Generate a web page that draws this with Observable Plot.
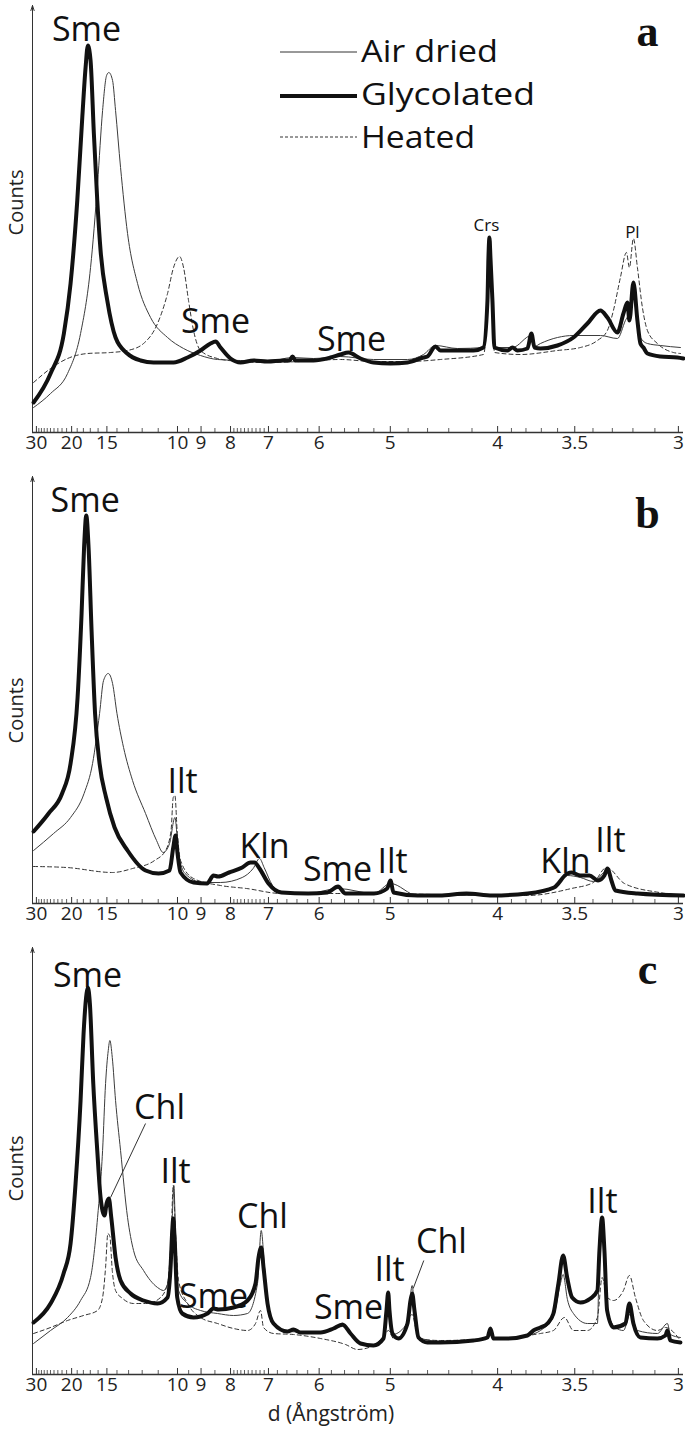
<!DOCTYPE html>
<html>
<head>
<meta charset="utf-8">
<script src="https://cdn.jsdelivr.net/npm/d3@7"></script>
<script src="https://cdn.jsdelivr.net/npm/@observablehq/plot@0.6"></script>
<style>
  body { margin: 0; background: #fff; }
  #wrap { position: relative; width: 685px; }
  #wrap svg { display: block; }
  #legend { position: absolute; left: 0; top: 0; pointer-events: none; }
</style>
</head>
<body>
<div id="wrap"></div>
<script>
// ---------- axis: d-spacing (Å) on a 2θ (Cu Kα) linear scale ----------
const LAMBDA = 1.5406;
const twoTheta = d => 2 * Math.asin(LAMBDA / (2 * d)) * 180 / Math.PI;
const majorD = [30, 20, 15, 10, 9, 8, 7, 6, 5, 4, 3.5, 3];
const majorLabels = ["30", "20", "15", "10", "9", "8", "7", "6", "5", "4", "3.5", "3"];
const minorD = [29, 28, 27, 26, 25, 24, 23, 22, 21, 19, 18, 17, 16, 14, 13, 12, 11, 9.5, 8.5,
  7.9, 7.8, 7.7, 7.6, 7.5, 7.4, 7.3, 7.2, 7.1, 6.8, 6.6, 6.4, 6.2, 5.8, 5.6, 5.4, 5.2,
  4.8, 4.6, 4.4, 4.2, 3.9, 3.8, 3.7, 3.6, 3.4, 3.3, 3.2, 3.1];
const xDomain = [2.78, 29.97];
const yMax = 427;

// ---------- panel a : [2θ (deg), counts] ----------
const aGly = [[2.825,30],[3.535,59],[4.091,99],[4.370,149],[4.650,232],[4.859,315],[4.997,365],[5.093,387],[5.205,372],[5.343,299],[5.485,232],[5.623,182],[5.903,132],[6.249,95],[6.738,79],[7.293,72],[7.836,70],[8.671,70],[9.256,75],[9.798,82],[10.216,89],[10.425,91],[10.633,85],[11.051,74],[11.468,70],[12.011,72],[12.596,71],[13.264,72],[13.515,72],[13.640,76],[13.765,72],[14.517,72],[15.226,75],[15.644,78],[15.978,80],[16.479,74],[17.022,70],[17.732,69],[18.442,70],[19.109,75],[19.276,76],[19.610,86],[19.819,82],[20.529,82],[21.197,82],[21.614,85],[21.782,132],[21.823,175],[21.865,195],[21.907,175],[21.990,132],[22.074,85],[22.617,82],[22.826,85],[23.034,82],[23.452,84],[23.619,99],[23.745,85],[23.995,84],[24.705,87],[25.373,95],[25.957,109],[26.500,122],[26.792,115],[27.210,100],[27.461,119],[27.628,130],[27.711,112],[27.878,150],[28.045,112],[28.171,89],[28.296,85],[28.463,79],[29.006,76],[29.715,75],[29.966,74]];
const aAir = [[2.825,25],[3.535,39],[4.245,59],[4.788,99],[5.205,165],[5.498,249],[5.707,322],[5.874,357],[5.969,360],[6.124,352],[6.249,322],[6.458,265],[6.750,199],[7.168,149],[7.711,115],[8.420,95],[9.089,84],[9.798,77],[10.508,73],[11.468,72],[12.596,71],[13.640,75],[14.517,74],[15.644,76],[17.022,73],[18.442,73],[19.109,78],[19.610,87],[20.529,84],[21.614,85],[21.782,130],[21.865,190],[21.990,130],[22.074,85],[22.826,85],[23.619,97],[23.745,86],[23.995,89],[24.705,95],[25.373,97],[26.500,97],[27.210,94],[27.544,112],[27.753,122],[27.878,135],[28.045,110],[28.171,95],[28.463,89],[29.006,87],[29.841,85]];
const aHeat = [[2.825,50],[3.535,64],[4.245,74],[5.080,79],[6.041,80],[6.750,82],[7.418,89],[8.003,109],[8.420,139],[8.671,165],[8.922,176],[9.089,165],[9.297,132],[9.506,102],[9.798,82],[10.508,74],[11.468,71],[12.596,70],[13.974,71],[15.644,73],[17.022,71],[18.442,71],[19.819,73],[21.614,78],[21.782,125],[21.865,185],[21.990,125],[22.074,80],[23.160,78],[24.705,82],[25.665,85],[26.375,92],[26.792,102],[27.043,122],[27.335,155],[27.586,180],[27.711,165],[27.878,194],[28.045,165],[28.254,125],[28.463,102],[28.880,89],[29.548,80],[29.841,79]];
const aLabels = [["Sme", 5.038, 402], ["Sme", 10.425, 110], ["Sme", 16.103, 92]];
const aSmall = [["Crs", 21.740, 207], ["Pl", 27.836, 200]];

// ---------- panel b ----------
const bGly = [[2.825,72],[3.452,90],[4.016,110],[4.370,140],[4.663,206],[4.830,290],[4.934,356],[5.026,388],[5.122,356],[5.247,273],[5.393,190],[5.581,140],[5.853,106],[6.208,76],[6.750,53],[7.502,33],[8.045,30],[8.504,33],[8.658,56],[8.754,68],[8.838,50],[8.963,31],[9.506,21],[10.070,20],[10.341,28],[10.529,27],[10.988,31],[11.539,36],[11.886,41],[12.053,41],[12.262,35],[12.638,20],[13.180,11],[14.291,10],[15.101,11],[15.540,17],[15.853,10],[17.043,10],[17.594,15],[17.732,23],[17.857,11],[18.859,8],[19.777,8],[20.905,10],[21.990,8],[23.452,10],[24.563,16],[25.122,30],[25.289,31],[25.665,28],[26.041,28],[26.400,23],[26.667,28],[26.792,35],[26.959,23],[27.127,13],[28.045,10],[29.966,8]];
const bAir = [[2.825,53],[3.660,70],[4.370,86],[4.934,110],[5.289,140],[5.581,190],[5.748,223],[5.944,230],[6.124,220],[6.308,190],[6.583,156],[6.959,123],[7.502,90],[7.961,63],[8.237,51],[8.504,60],[8.729,86],[8.880,50],[9.151,30],[9.882,21],[10.633,21],[11.539,26],[11.995,35],[12.262,45],[12.454,36],[12.805,18],[13.180,11],[14.291,10],[15.540,15],[17.043,10],[17.732,20],[18.859,8],[23.452,9],[24.563,15],[25.122,28],[25.665,26],[26.208,22],[26.792,33],[27.127,14],[28.045,10],[29.966,8]];
const bHeat = [[2.825,37],[4.203,36],[6.124,31],[6.959,35],[7.878,43],[8.337,53],[8.567,73],[8.658,106],[8.729,108],[8.821,73],[8.963,43],[9.506,25],[10.633,18],[11.719,15],[13.180,10],[17.043,10],[17.594,16],[17.732,18],[17.857,10],[23.452,8],[25.289,15],[26.208,21],[26.751,36],[27.503,20],[28.964,11],[29.966,8]];
const bLabels = [["Sme", 4.980, 402], ["Ilt", 9.047, 121], ["Kln", 12.471, 56], ["Sme", 15.519, 33], ["Ilt", 17.815, 41], ["Kln", 25.039, 41], ["Ilt", 26.918, 62]];

// ---------- panel c ----------
const cGly = [[2.825,52],[3.535,71],[4.078,101],[4.370,131],[4.579,191],[4.788,274],[4.913,341],[5.038,381],[5.093,387],[5.176,371],[5.318,291],[5.485,224],[5.623,177],[5.790,159],[5.874,171],[5.969,176],[6.070,157],[6.249,117],[6.458,94],[6.876,81],[7.418,74],[8.003,71],[8.420,77],[8.546,107],[8.617,144],[8.658,156],[8.725,131],[8.825,77],[9.034,61],[9.506,57],[10.091,61],[10.341,66],[10.550,65],[11.176,67],[11.761,74],[12.095,91],[12.220,117],[12.333,127],[12.429,107],[12.596,71],[12.846,51],[13.431,43],[13.681,45],[13.974,42],[14.809,42],[15.352,46],[15.727,50],[16.062,41],[16.479,31],[17.022,29],[17.439,36],[17.565,64],[17.636,82],[17.690,64],[17.815,41],[18.066,36],[18.442,51],[18.567,74],[18.638,81],[18.734,64],[18.901,37],[19.276,32],[19.819,32],[21.197,34],[21.782,37],[21.907,46],[22.032,36],[22.617,36],[23.452,39],[23.703,44],[23.995,47],[24.287,51],[24.538,61],[24.746,91],[24.943,119],[25.110,97],[25.318,77],[25.665,72],[26.083,76],[26.375,84],[26.459,124],[26.571,157],[26.667,124],[26.780,64],[27.043,47],[27.544,51],[27.711,71],[27.878,51],[28.171,37],[28.880,36],[29.215,39],[29.298,44],[29.423,34],[29.841,32]];
const cAir = [[2.825,31],[3.535,44],[4.245,57],[4.788,74],[5.205,97],[5.498,157],[5.707,224],[5.832,291],[5.944,324],[6.011,334],[6.112,317],[6.249,274],[6.458,224],[6.750,157],[7.001,124],[7.418,104],[8.003,87],[8.253,84],[8.462,94],[8.617,157],[8.684,189],[8.754,141],[8.880,84],[9.256,71],[9.798,64],[10.508,61],[11.176,59],[11.761,61],[12.178,91],[12.333,144],[12.471,107],[12.638,67],[12.846,50],[13.431,43],[14.809,42],[15.727,48],[16.479,31],[17.022,29],[17.439,35],[17.636,75],[17.815,40],[18.442,52],[18.638,89],[18.734,64],[18.901,37],[19.819,33],[21.782,36],[21.907,45],[22.032,35],[23.452,39],[23.995,44],[24.538,58],[24.830,91],[24.943,100],[25.122,75],[25.373,61],[25.957,51],[26.375,51],[26.459,124],[26.571,154],[26.667,110],[26.792,64],[27.127,47],[27.461,44],[27.753,61],[28.045,44],[28.880,41],[29.298,51],[29.423,40],[29.841,37]];
const cHeat = [[2.825,41],[3.535,47],[4.245,54],[4.913,59],[5.498,64],[5.707,77],[5.832,107],[5.928,141],[6.011,138],[6.112,104],[6.249,84],[6.542,76],[7.001,71],[7.585,71],[8.128,77],[8.420,91],[8.575,141],[8.658,189],[8.754,141],[8.880,94],[9.256,71],[9.798,57],[10.508,51],[11.176,46],[11.761,44],[12.095,51],[12.304,64],[12.429,47],[12.846,41],[13.681,40],[14.809,36],[15.853,30],[16.354,25],[17.022,29],[17.439,38],[17.648,44],[17.857,36],[18.149,38],[18.638,60],[18.901,36],[19.819,34],[21.782,36],[21.907,44],[22.032,35],[23.452,39],[23.995,41],[24.538,44],[24.997,57],[25.373,44],[25.957,44],[26.375,57],[26.571,97],[26.792,77],[27.043,74],[27.461,84],[27.711,99],[27.962,77],[28.296,54],[28.880,44],[29.215,47],[29.841,34]];
const cLabels = [["Sme", 5.080, 398], ["Chl", 8.086, 266], ["Ilt", 8.754, 202], ["Sme", 10.341, 77], ["Chl", 12.387, 157], ["Sme", 15.978, 66], ["Ilt", 17.690, 104], ["Chl", 19.861, 132], ["Ilt", 26.584, 172]];
const cLeaders = [[7.502, 251, 6.041, 177], [19.123, 114, 18.680, 86]];

const legendItems = ["Air dried", "Glycolated", "Heated"];

// ---------- drawing ----------
const FONT = "'Open Sans', 'Noto Sans', sans-serif";
const rows = arr => arr.map(([t, c]) => ({t, c}));
const tickLabel = new Map(majorD.map((d, i) => [twoTheta(d).toFixed(4), majorLabels[i]]));

function panel({gly, air, heat, labels, small = [], leaders = [], letter, letterDy, countsY, last}) {
  const H = last ? 487 : 471;
  const mb = last ? 55 : 39;
  const frameH = H - 5 - mb;
  const marks = [
    Plot.ruleY([0], {stroke: "#333", strokeWidth: 1.5}),
    Plot.ruleX(majorD.map(twoTheta), {stroke: "#333", strokeWidth: 1, insetTop: frameH - 6}),
    Plot.ruleX(minorD.map(twoTheta), {stroke: "#333", strokeWidth: 0.8, insetTop: frameH - 4}),
    Plot.arrow([0], {x1: () => xDomain[0], y1: () => 0, x2: () => xDomain[0], y2: () => yMax,
      stroke: "#333", strokeWidth: 1, headLength: 8, headAngle: 36}),
    Plot.line(rows(heat), {x: "t", y: "c", stroke: "#333", strokeWidth: 1, strokeDasharray: "4,3", curve: "monotone-x"}),
    Plot.line(rows(air), {x: "t", y: "c", stroke: "#3c3c3c", strokeWidth: 1, curve: "monotone-x"}),
    Plot.line(rows(gly), {x: "t", y: "c", stroke: "#111", strokeWidth: 4, curve: "monotone-x", strokeLinejoin: "round"}),
    Plot.link(leaders, {x1: d => d[0], y1: d => d[1], x2: d => d[2], y2: d => d[3], stroke: "#333", strokeWidth: 1}),
    Plot.text(labels, {x: d => d[1], y: d => d[2], text: d => d[0], fontSize: 34, fill: "#111", fontFamily: FONT}),
    Plot.text(small, {x: d => d[1], y: d => d[2], text: d => d[0], fontSize: 17, fill: "#111", fontFamily: FONT}),
    Plot.text([letter], {frameAnchor: "top-right", dx: -36, dy: letterDy, lineAnchor: "bottom", textAnchor: "middle",
      fontSize: 44, fontWeight: "bold", fontFamily: "'Liberation Serif', 'DejaVu Serif', serif", fill: "#111"}),
    Plot.text(["Counts"], {x: () => xDomain[0], y: () => countsY, dx: -16, rotate: -90, fontSize: 20, fill: "#222", fontFamily: FONT})
  ];
  if (last) {
    marks.push(Plot.text(["d (Ångström)"], {frameAnchor: "bottom", dx: -27, dy: 46, lineAnchor: "bottom",
      fontSize: 21, fill: "#222", fontFamily: FONT}));
  }
  return Plot.plot({
    width: 685,
    height: H,
    marginLeft: 32,
    marginRight: 2,
    marginTop: 5,
    marginBottom: mb,
    style: {fontFamily: FONT, fontSize: "19px", color: "#222", background: "#fff", overflow: "visible"},
    x: {domain: xDomain, ticks: majorD.map(twoTheta), tickFormat: t => tickLabel.get(t.toFixed(4)) ?? "",
        tickSize: 0, tickPadding: 3, label: null},
    y: {domain: [0, yMax], axis: null},
    marks
  });
}

const wrap = document.getElementById("wrap");
wrap.append(panel({gly: aGly, air: aAir, heat: aHeat, labels: aLabels, small: aSmall, letter: "a", letterDy: 40, countsY: 230}));
wrap.append(panel({gly: bGly, air: bAir, heat: bHeat, labels: bLabels, letter: "b", letterDy: 51, countsY: 193}));
wrap.append(panel({gly: cGly, air: cAir, heat: cHeat, labels: cLabels, leaders: cLeaders, letter: "c", letterDy: 36, countsY: 206, last: true}));

// legend (drawn over panel a)
const ns = "http://www.w3.org/2000/svg";
const lg = document.createElementNS(ns, "svg");
lg.setAttribute("id", "legend");
lg.setAttribute("width", 685);
lg.setAttribute("height", 160);
const styles = [
  {w: 1, dash: null, color: "#333", len: 137},
  {w: 4, dash: null, color: "#111", len: 174},
  {w: 1, dash: "3,2", color: "#333", len: 114}
];
legendItems.forEach((name, i) => {
  const yLine = [52, 96, 137][i];
  const line = document.createElementNS(ns, "line");
  line.setAttribute("x1", 280); line.setAttribute("x2", 357);
  line.setAttribute("y1", yLine); line.setAttribute("y2", yLine);
  line.setAttribute("stroke", styles[i].color);
  line.setAttribute("stroke-width", styles[i].w);
  if (styles[i].dash) line.setAttribute("stroke-dasharray", styles[i].dash);
  lg.appendChild(line);
  const t = document.createElementNS(ns, "text");
  t.setAttribute("x", 361);
  t.setAttribute("y", [62, 105, 148][i]);
  t.setAttribute("font-family", FONT);
  t.setAttribute("font-size", 31);
  t.setAttribute("textLength", styles[i].len);
  t.setAttribute("lengthAdjust", "spacingAndGlyphs");
  t.setAttribute("fill", "#111");
  t.textContent = name;
  lg.appendChild(t);
});
wrap.appendChild(lg);
</script>
</body>
</html>
